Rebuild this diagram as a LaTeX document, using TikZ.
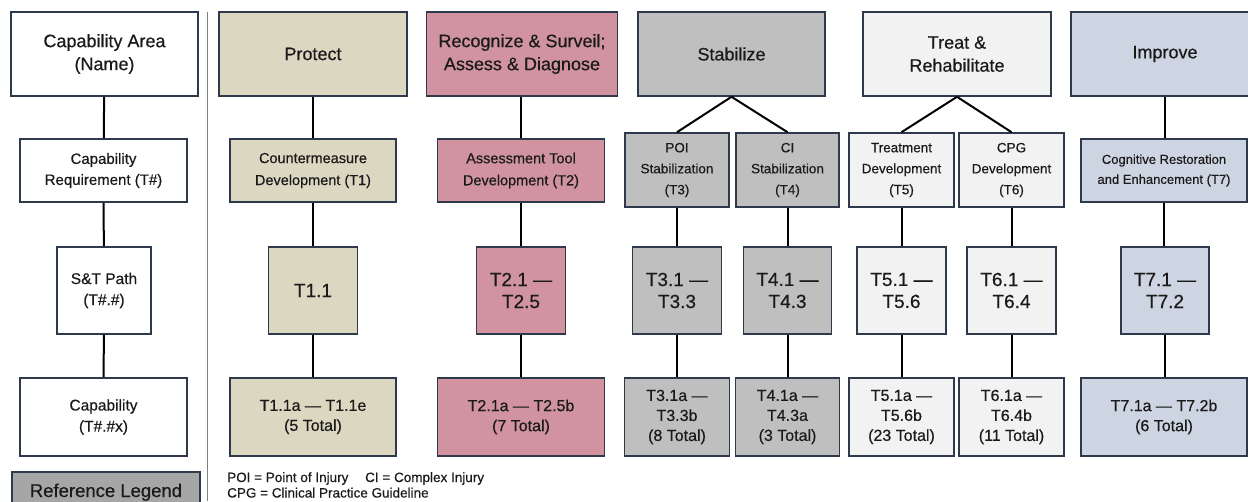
\documentclass[tikz,border=0pt]{standalone}
\usepackage{fontspec}
\setmainfont{Liberation Sans}[FakeBold=0.45]
\definecolor{bordc}{HTML}{2E3A4B}
\definecolor{txtc}{HTML}{1A1A1A}
\definecolor{protc}{HTML}{DCD7C1}
\definecolor{recc}{HTML}{D0939F}
\definecolor{stabc}{HTML}{BFBFBF}
\definecolor{treatc}{HTML}{F2F2F2}
\definecolor{impc}{HTML}{CDD5E2}
\definecolor{legc}{HTML}{A6A6A6}
\definecolor{sepc}{HTML}{808080}
\begin{document}
\begin{tikzpicture}[x=1pt,y=-1pt,
  box/.style={draw=bordc, line width=1.6pt, inner sep=0pt, align=center, text=txtc},
  areabox/.style={box, minimum height=84pt, font=\fontsize{18}{23}\selectfont},
  reqbox/.style={box, minimum height=63pt, font=\fontsize{14.5}{22}\selectfont},
  reqsbox/.style={box, minimum height=74pt, font=\fontsize{13.5}{21}\selectfont},
  pathbox/.style={box, minimum height=87pt, font=\fontsize{19}{22}\selectfont},
  capbox/.style={box, minimum height=78pt, font=\fontsize{16}{20}\selectfont},
  conn/.style={draw=black, line width=2pt}
]
\useasboundingbox (0,0) rectangle (1248,501);
\fill[white] (0,0) rectangle (1248,501);
% separator
\draw[sepc, line width=1pt] (207,12) -- (207,501);

% legend column
\node[areabox, fill=white, minimum width=187pt] (la) at (104.5,54) {Capability Area\\(Name)};
\node[reqbox, fill=white, minimum width=167pt, font=\fontsize{15}{21}\selectfont] (lr) at (103.5,170.5) {Capability\\Requirement (T\#)};
\node[pathbox, fill=white, minimum width=94pt, font=\fontsize{15.5}{21}\selectfont] (ls) at (104,290.5) {S\&T Path\\(T\#.\#)};
\node[capbox, fill=white, minimum width=167pt, font=\fontsize{15.5}{21}\selectfont] (lc) at (103.5,417) {Capability\\(T\#.\#x)};
\node[box, fill=legc, minimum width=188pt, minimum height=43pt] (leg) at (106,493.5) {};
\node[text=txtc, font=\fontsize{18.5}{20}\selectfont, anchor=base, inner sep=0pt] (legt) at (106,497) {Reference Legend};
\draw[conn] (la) -- (lr);
\draw[conn] (lr) -- (ls);
\draw[conn] (ls) -- (lc);

% protect
\node[areabox, fill=protc, minimum width=188pt] (pa) at (313,54) {Protect};
\node[reqbox, fill=protc, minimum width=166pt] (pr) at (313,170.5) {Countermeasure\\Development (T1)};
\node[pathbox, fill=protc, minimum width=89pt] (ps) at (313,290.5) {T1.1};
\node[capbox, fill=protc, minimum width=166pt] (pc) at (313,417) {T1.1a — T1.1e\\(5 Total)};
\draw[conn] (pa) -- (pr);
\draw[conn] (pr) -- (ps);
\draw[conn] (ps) -- (pc);

% recognize
\node[areabox, fill=recc, minimum width=191pt] (ra) at (522,54) {Recognize \& Surveil;\\Assess \& Diagnose};
\node[reqbox, fill=recc, minimum width=167pt] (rr) at (521,170.5) {Assessment Tool\\Development (T2)};
\node[pathbox, fill=recc, minimum width=89pt] (rs) at (521,290.5) {T2.1 —\\T2.5};
\node[capbox, fill=recc, minimum width=167pt] (rc) at (521,417) {T2.1a — T2.5b\\(7 Total)};
\draw[conn] (rr.north|-ra.south) -- (rr);
\draw[conn] (rr) -- (rs);
\draw[conn] (rs) -- (rc);

% stabilize
\node[areabox, fill=stabc, minimum width=187pt] (sa) at (731.5,54) {Stabilize};
\node[reqsbox, fill=stabc, minimum width=104pt] (s3r) at (677,170) {POI\\Stabilization\\(T3)};
\node[reqsbox, fill=stabc, minimum width=103pt] (s4r) at (787.5,170) {CI\\Stabilization\\(T4)};
\node[pathbox, fill=stabc, minimum width=89pt] (s3s) at (677,290.5) {T3.1 —\\T3.3};
\node[pathbox, fill=stabc, minimum width=88pt] (s4s) at (787.5,290.5) {T4.1 —\\T4.3};
\node[capbox, fill=stabc, minimum width=105pt] (s3c) at (677,417) {T3.1a —\\T3.3b\\(8 Total)};
\node[capbox, fill=stabc, minimum width=104pt] (s4c) at (787.5,417) {T4.1a —\\T4.3a\\(3 Total)};
\draw[conn] (sa.south) -- (s3r.north);
\draw[conn] (sa.south) -- (s4r.north);
\draw[conn] (s3r) -- (s3s);
\draw[conn] (s4r) -- (s4s);
\draw[conn] (s3s) -- (s3c);
\draw[conn] (s4s) -- (s4c);

% treat
\node[areabox, fill=treatc, minimum width=188pt] (ta) at (957,54) {Treat \&\\Rehabilitate};
\node[reqsbox, fill=treatc, minimum width=105pt] (t5r) at (901.5,170) {Treatment\\Development\\(T5)};
\node[reqsbox, fill=treatc, minimum width=105pt] (t6r) at (1011.5,170) {CPG\\Development\\(T6)};
\node[pathbox, fill=treatc, minimum width=89pt] (t5s) at (901.5,290.5) {T5.1 —\\T5.6};
\node[pathbox, fill=treatc, minimum width=89pt] (t6s) at (1011.5,290.5) {T6.1 —\\T6.4};
\node[capbox, fill=treatc, minimum width=105pt] (t5c) at (901.5,417) {T5.1a —\\T5.6b\\(23 Total)};
\node[capbox, fill=treatc, minimum width=105pt] (t6c) at (1011.5,417) {T6.1a —\\T6.4b\\(11 Total)};
\draw[conn] (ta.south) -- (t5r.north);
\draw[conn] (ta.south) -- (t6r.north);
\draw[conn] (t5r) -- (t5s);
\draw[conn] (t6r) -- (t6s);
\draw[conn] (t5s) -- (t5c);
\draw[conn] (t6s) -- (t6c);

% improve
\node[areabox, fill=impc, minimum width=188pt] (ia) at (1165,54) {Improve};
\node[reqbox, fill=impc, minimum width=166pt, font=\fontsize{13}{20}\selectfont] (ir) at (1164,170.5) {Cognitive Restoration\\and Enhancement (T7)};
\node[pathbox, fill=impc, minimum width=88pt] (is) at (1165,290.5) {T7.1 —\\T7.2};
\node[capbox, fill=impc, minimum width=166pt] (ic) at (1164,417) {T7.1a — T7.2b\\(6 Total)};
\draw[conn] (ia) -- (ia|-ir.north);
\draw[conn] (ir) -- (ir|-is.north);
\draw[conn] (is) -- (is|-ic.north);

% footnotes
\node[text=txtc, font=\fontsize{13.5}{15}\selectfont, anchor=base west, inner sep=0pt] (fn1) at (227,482) {POI = Point of Injury};
\node[text=txtc, font=\fontsize{13.5}{15}\selectfont, anchor=base west, inner sep=0pt] (fn2) at (365,482) {CI = Complex Injury};
\node[text=txtc, font=\fontsize{13.5}{15}\selectfont, anchor=base west, inner sep=0pt] (fn3) at (227,497.5) {CPG = Clinical Practice Guideline};
\end{tikzpicture}
\end{document}
